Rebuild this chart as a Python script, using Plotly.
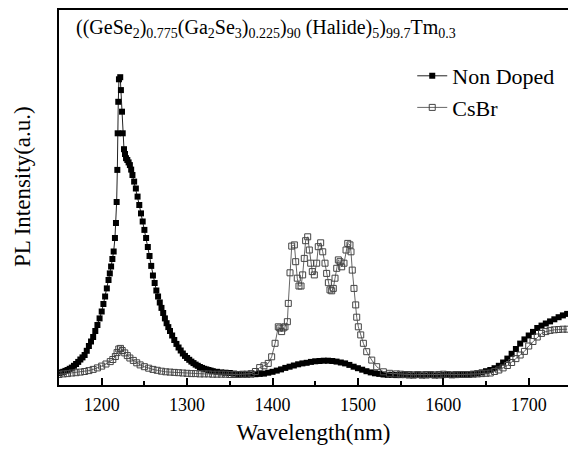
import plotly.graph_objects as go

# ---- data ----
nd_wl = [1150, 1152.5, 1155, 1157.5, 1160, 1162.5, 1165, 1167.5, 1170, 1172.5, 1175, 1177.5, 1180, 1182.5,
         1185, 1187.5, 1190, 1192.5, 1195, 1197.5, 1200, 1202, 1204, 1206, 1208, 1209.5, 1211, 1212.5, 1214,
         1215.5, 1216.7, 1217.5, 1218.3, 1218.7, 1219.4, 1220.2, 1221.7, 1222.5, 1223.8, 1224.6, 1226.1,
         1227.3, 1228.5, 1230, 1231.5, 1233, 1234.5, 1236, 1238, 1240, 1242, 1244, 1246, 1248, 1250, 1252,
         1254, 1256, 1258, 1260, 1262, 1264, 1266, 1268, 1270, 1272, 1274, 1276, 1278, 1280, 1282.5, 1285,
         1287.5, 1290, 1292.5, 1295, 1297.5, 1300, 1302.5, 1305, 1307.5, 1310, 1312.5, 1315, 1317.5, 1320,
         1322.5, 1325, 1327.5, 1330, 1335, 1340, 1345, 1350, 1355, 1360, 1365, 1370,
         1375, 1380, 1385, 1390, 1395, 1400, 1405, 1410, 1415, 1420, 1425, 1430, 1435, 1440, 1445, 1450,
         1455, 1460, 1465, 1470, 1475, 1480, 1485, 1490, 1495, 1500, 1505, 1510, 1515, 1520, 1525, 1530,
         1535, 1540, 1545, 1550, 1555, 1560, 1565, 1570, 1575, 1580, 1585, 1590, 1595, 1600, 1605, 1610,
         1615, 1620, 1625, 1630, 1635, 1640, 1645, 1650, 1655, 1660, 1665, 1670, 1675, 1680, 1685, 1690,
         1695, 1700, 1705, 1710, 1715, 1720, 1725, 1730, 1735, 1740, 1745]
nd_int = [0.040, 0.042, 0.044, 0.047, 0.050, 0.054, 0.058, 0.064, 0.070, 0.077, 0.085, 0.092, 0.100, 0.114,
          0.130, 0.145, 0.160, 0.180, 0.200, 0.222, 0.245, 0.270, 0.295, 0.322, 0.350, 0.372, 0.395, 0.420, 0.445,
          0.490, 0.540, 0.610, 0.717, 0.839, 0.944, 1.019, 1.026, 0.983, 0.911, 0.839, 0.786,
          0.770, 0.756, 0.750, 0.742, 0.733, 0.718, 0.700, 0.678, 0.655, 0.628, 0.600, 0.572, 0.545, 0.517, 0.490,
          0.460, 0.430, 0.397, 0.365, 0.340, 0.315, 0.295, 0.275, 0.257, 0.240, 0.222, 0.206, 0.193, 0.180, 0.165, 0.150,
          0.137, 0.125, 0.115, 0.105, 0.097, 0.090, 0.084, 0.078, 0.073, 0.068, 0.064, 0.060, 0.057, 0.054,
          0.052, 0.050, 0.048, 0.046, 0.044, 0.042, 0.041, 0.040, 0.038, 0.036, 0.035, 0.035,
          0.035, 0.036, 0.037, 0.038, 0.041, 0.044, 0.048, 0.052, 0.057, 0.061, 0.065, 0.069, 0.072, 0.074, 0.077, 0.079,
          0.080, 0.081, 0.081, 0.080, 0.078, 0.075, 0.072, 0.067, 0.061, 0.056, 0.051, 0.046, 0.042, 0.039, 0.037, 0.035,
          0.034, 0.034, 0.033, 0.033, 0.033, 0.032, 0.032, 0.033, 0.032, 0.032, 0.033, 0.032, 0.032, 0.033, 0.034, 0.033,
          0.033, 0.034, 0.034, 0.035, 0.037, 0.039, 0.042, 0.046, 0.050, 0.056, 0.064, 0.075, 0.088, 0.104, 0.120, 0.138,
          0.152, 0.165, 0.177, 0.190, 0.198, 0.205, 0.212, 0.219, 0.226, 0.232, 0.237]

cs_wl = [1150, 1155, 1160, 1165, 1170, 1175, 1180, 1185, 1190, 1195, 1200, 1205, 1210, 1213, 1216, 1218, 1220, 1222,
         1224, 1227, 1230, 1233, 1237, 1241, 1245, 1250, 1255, 1260, 1265, 1270, 1275, 1280, 1285, 1290, 1295, 1300,
         1305, 1310, 1315, 1320, 1325, 1330, 1335, 1340, 1345, 1350, 1355, 1360, 1365, 1370, 1375, 1380, 1385, 1390,
         1395, 1399, 1403, 1406.8, 1408.5, 1410.7, 1412.5, 1414.6, 1417.4, 1418.5, 1420.5, 1422.5, 1425.6, 1427.1,
         1429, 1431, 1433.4, 1435.3, 1437.2, 1438.8, 1441.2, 1443.1, 1444.7, 1446.6, 1449, 1451.7, 1453.6, 1456.4,
         1458.8, 1461.5, 1463.4, 1465.4, 1467.3, 1469.3, 1471.2, 1473.2, 1475.2, 1477.1, 1479, 1481, 1483.7, 1486.1,
         1488.1, 1490.7, 1491.9, 1493.4, 1495.4, 1497.4, 1498.6, 1500.5, 1503.3, 1506.4, 1510.3, 1516.2, 1522, 1529.8,
         1537, 1545, 1550, 1555, 1560, 1565, 1570, 1575, 1580, 1585, 1590, 1595, 1600, 1605, 1610, 1615, 1620, 1625,
         1630, 1635, 1640, 1645, 1650, 1655, 1660, 1665, 1670, 1675, 1680, 1685, 1690, 1695, 1700, 1705, 1710, 1715,
         1720, 1725, 1730, 1735, 1740, 1745]
cs_int = [0.035, 0.037, 0.038, 0.040, 0.041, 0.043, 0.045, 0.048, 0.052, 0.057, 0.063, 0.070, 0.078, 0.085, 0.095, 0.108, 0.120, 0.122,
          0.115, 0.107, 0.098, 0.090, 0.082, 0.074, 0.067, 0.061, 0.056, 0.052, 0.049, 0.046, 0.044, 0.043, 0.042, 0.041, 0.040, 0.039,
          0.038, 0.038, 0.037, 0.037, 0.037, 0.036, 0.036, 0.036, 0.036, 0.035, 0.035, 0.035, 0.036, 0.036, 0.038, 0.045, 0.058, 0.064,
          0.072, 0.094, 0.139, 0.194, 0.190, 0.178, 0.190, 0.194, 0.211, 0.272, 0.374, 0.463, 0.467, 0.411,
          0.356, 0.330, 0.330, 0.367, 0.422, 0.481, 0.494, 0.450, 0.406, 0.378, 0.367, 0.406, 0.461, 0.474,
          0.444, 0.406, 0.372, 0.341, 0.317, 0.314, 0.322, 0.356, 0.389, 0.417, 0.411, 0.394, 0.406, 0.450,
          0.472, 0.467, 0.444, 0.383, 0.322, 0.267, 0.226, 0.194, 0.167, 0.139, 0.111, 0.083, 0.061, 0.044,
          0.039, 0.037, 0.036, 0.035, 0.035, 0.034, 0.035, 0.034, 0.035, 0.035, 0.034, 0.035, 0.036, 0.035, 0.034, 0.035, 0.035, 0.035,
          0.035, 0.036, 0.037, 0.038, 0.039, 0.040, 0.045, 0.050, 0.057, 0.065, 0.075, 0.088, 0.100, 0.112, 0.130, 0.145, 0.160, 0.172,
          0.178, 0.182, 0.184, 0.185, 0.186, 0.186]

series_names = ["Non Doped", "CsBr"]
title_text = ("((GeSe<sub>2</sub>)<sub>0.775</sub>(Ga<sub>2</sub>Se<sub>3</sub>)<sub>0.225</sub>)<sub>90</sub>"
              " (Halide)<sub>5</sub>)<sub>99.7</sub>Tm<sub>0.3</sub>")

SERIF = "Liberation Serif, Times New Roman, serif"

fig = go.Figure()
fig.add_trace(go.Scatter(
    x=nd_wl, y=nd_int, name=series_names[0], mode="lines+markers",
    line=dict(color="#222222", width=1),
    marker=dict(symbol="square", size=6, color="black", line=dict(width=0)),
))
fig.add_trace(go.Scatter(
    x=cs_wl, y=cs_int, name=series_names[1], mode="lines+markers",
    line=dict(color="#666666", width=1),
    marker=dict(symbol="square-open", size=6, color="#444444", line=dict(width=1)),
))

fig.update_layout(
    width=568, height=450,
    margin=dict(l=59, r=0, t=10, b=65),
    paper_bgcolor="white", plot_bgcolor="white",
    font=dict(family=SERIF, color="black", size=18),
    showlegend=True,
    legend=dict(x=0.694, y=0.88, xanchor="left", yanchor="top",
                font=dict(family=SERIF, size=22, color="black"),
                bgcolor="rgba(0,0,0,0)", tracegroupgap=0, itemsizing="trace"),
    xaxis=dict(
        range=[1150, 1746], showgrid=False, zeroline=False,
        showline=True, linecolor="black", linewidth=1.5, mirror=True,
        ticks="inside", ticklen=7, tickwidth=1.5, tickcolor="black",
        tick0=1200, dtick=100, tickfont=dict(family=SERIF, size=18),
        ticklabelstandoff=3,
        minor=dict(ticks="inside", ticklen=4, tickwidth=1.5, dtick=50, tick0=1150, tickcolor="black"),
        title=dict(text="Wavelength(nm)", font=dict(family=SERIF, size=23), standoff=10),
    ),
    yaxis=dict(
        range=[0, 1.25], showgrid=False, zeroline=False,
        showline=True, linecolor="black", linewidth=1.5, mirror=False,
        ticks="", showticklabels=False,
    ),
    annotations=[
        dict(text="PL Intensity(a.u.)", xref="paper", yref="paper", x=-0.073, y=0.53,
             xanchor="center", yanchor="middle", textangle=-90, showarrow=False,
             font=dict(family=SERIF, size=23)),
        dict(text=title_text, xref="paper", yref="paper", x=0.03, y=0.99,
             xanchor="left", yanchor="top", showarrow=False,
             font=dict(family=SERIF, size=20)),
    ],
)

fig.write_html("out.html")
